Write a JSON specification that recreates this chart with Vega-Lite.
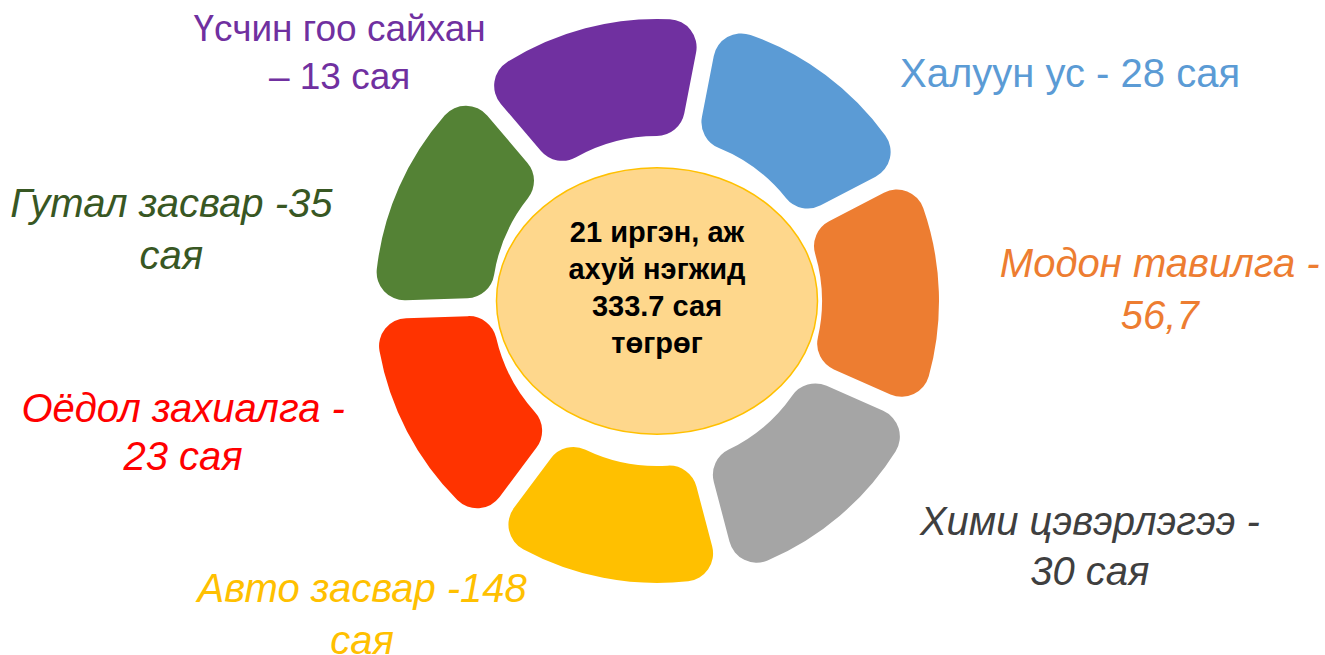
{
  "$schema": "https://vega.github.io/schema/vega-lite/v6.json",
  "width": 1314,
  "height": 602,
  "autosize": {"type": "none"},
  "padding": {"left": 0, "top": 0, "right": 11, "bottom": 53},
  "background": "white",
  "view": {"stroke": null},
  "config": {"font": "Liberation Sans"},
  "datasets": {
    "segments": [
      {"i": 0, "name": "Халуун ус", "v": 1, "amount": 28, "label": "Халуун ус - 28 сая"},
      {"i": 1, "name": "Модон тавилга", "v": 1, "amount": 56.7, "label": "Модон тавилга -\n56,7"},
      {"i": 2, "name": "Хими цэвэрлэгээ", "v": 1, "amount": 30, "label": "Хими цэвэрлэгээ -\n30 сая"},
      {"i": 3, "name": "Авто засвар", "v": 1, "amount": 148, "label": "Авто засвар -148\nсая"},
      {"i": 4, "name": "Оёдол захиалга", "v": 1, "amount": 23, "label": "Оёдол захиалга -\n23 сая"},
      {"i": 5, "name": "Гутал засвар", "v": 1, "amount": 35, "label": "Гутал засвар -35\nсая"},
      {"i": 6, "name": "Үсчин гоо сайхан", "v": 1, "amount": 13, "label": "Үсчин гоо сайхан\n– 13 сая"}
    ],
    "center": [{"t": "21 иргэн, аж\nахуй нэгжид\n333.7 сая\nтөгрөг"}]
  },
  "layer": [
    {
      "data": {"name": "center"},
      "mark": {"type": "point", "filled": true, "shape": "M-1,0A1,0.83,0,1,1,1,0A1,0.83,0,1,1,-1,0Z", "size": 103041, "fill": "#FED78C", "stroke": "#FFC000", "strokeWidth": 1.5, "opacity": 1},
      "encoding": {}
    },
    {
      "data": {"name": "segments"},
      "layer": [
        {
          "mark": {"type": "arc", "radius": 282, "radius2": 165, "padAngle": 0.055, "cornerRadius": 28},
          "encoding": {
            "theta": {"field": "v", "type": "quantitative", "stack": true, "scale": {"range": [0.192, 6.475]}},
            "order": {"field": "i"},
            "color": {"field": "name", "type": "nominal", "legend": null,
              "scale": {"domain": ["Халуун ус", "Модон тавилга", "Хими цэвэрлэгээ", "Авто засвар", "Оёдол захиалга", "Гутал засвар", "Үсчин гоо сайхан"],
                        "range": ["#5B9BD5", "#ED7D31", "#A5A5A5", "#FFC000", "#FF3300", "#548235", "#7030A0"]}}
          }
        },
        {
          "mark": {"type": "text", "radius": 450, "dx": 144, "dy": 135, "fontSize": 40, "lineHeight": 48, "lineBreak": "\n", "color": "#5B9BD5", "align": "center", "baseline": "middle"},
          "encoding": {"theta": {"field": "v", "type": "quantitative", "stack": true}, "order": {"field": "i"},
            "text": {"condition": {"test": "datum.i == 0", "field": "label"}, "value": ""}}
        },
        {
          "mark": {"type": "text", "radius": 450, "dx": 53, "dy": -21, "fontSize": 40, "fontStyle": "italic", "lineHeight": 52, "lineBreak": "\n", "color": "#ED7D31", "align": "center", "baseline": "middle"},
          "encoding": {"theta": {"field": "v", "type": "quantitative", "stack": true}, "order": {"field": "i"},
            "text": {"condition": {"test": "datum.i == 1", "field": "label"}, "value": ""}}
        },
        {
          "mark": {"type": "text", "radius": 450, "dx": 141, "dy": -121, "fontSize": 40, "fontStyle": "italic", "lineHeight": 50, "lineBreak": "\n", "color": "#3F3F3F", "align": "center", "baseline": "middle"},
          "encoding": {"theta": {"field": "v", "type": "quantitative", "stack": true}, "order": {"field": "i"},
            "text": {"condition": {"test": "datum.i == 2", "field": "label"}, "value": ""}}
        },
        {
          "mark": {"type": "text", "radius": 450, "dx": -209, "dy": -153, "fontSize": 40, "fontStyle": "italic", "lineHeight": 52, "lineBreak": "\n", "color": "#FFC000", "align": "center", "baseline": "middle"},
          "encoding": {"theta": {"field": "v", "type": "quantitative", "stack": true}, "order": {"field": "i"},
            "text": {"condition": {"test": "datum.i == 3", "field": "label"}, "value": ""}}
        },
        {
          "mark": {"type": "text", "radius": 450, "dx": -75, "dy": -99, "fontSize": 40, "fontStyle": "italic", "lineHeight": 48, "lineBreak": "\n", "color": "#FF0000", "align": "center", "baseline": "middle"},
          "encoding": {"theta": {"field": "v", "type": "quantitative", "stack": true}, "order": {"field": "i"},
            "text": {"condition": {"test": "datum.i == 4", "field": "label"}, "value": ""}}
        },
        {
          "mark": {"type": "text", "radius": 450, "dx": -74, "dy": 86, "fontSize": 40, "fontStyle": "italic", "lineHeight": 52, "lineBreak": "\n", "color": "#385723", "align": "center", "baseline": "middle"},
          "encoding": {"theta": {"field": "v", "type": "quantitative", "stack": true}, "order": {"field": "i"},
            "text": {"condition": {"test": "datum.i == 5", "field": "label"}, "value": ""}}
        },
        {
          "mark": {"type": "text", "radius": 450, "dx": -203, "dy": 164, "fontSize": 37, "lineHeight": 48, "lineBreak": "\n", "color": "#7030A0", "align": "center", "baseline": "middle"},
          "encoding": {"theta": {"field": "v", "type": "quantitative", "stack": true}, "order": {"field": "i"},
            "text": {"condition": {"test": "datum.i == 6", "field": "label"}, "value": ""}}
        }
      ]
    },
    {
      "data": {"name": "center"},
      "mark": {"type": "text", "fontSize": 29, "fontWeight": "bold", "lineHeight": 37, "lineBreak": "\n", "color": "black", "align": "center", "baseline": "middle", "dy": -68},
      "encoding": {"text": {"field": "t", "type": "nominal"}}
    }
  ]
}
